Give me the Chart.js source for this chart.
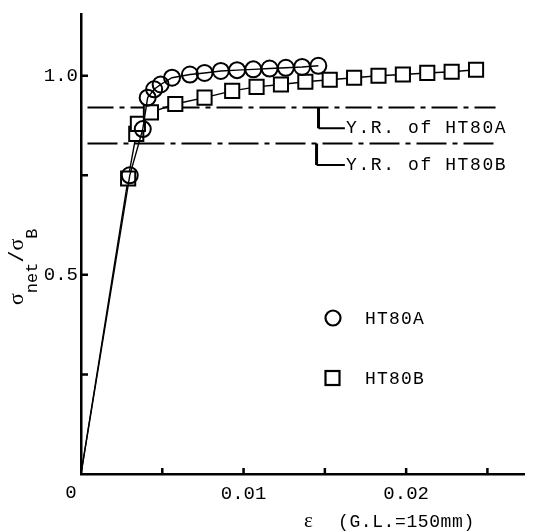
<!DOCTYPE html>
<html>
<head>
<meta charset="utf-8">
<script src="https://cdn.jsdelivr.net/npm/chart.js@4.4.0/dist/chart.umd.min.js"></script>
<style>
    html, body { margin: 0; padding: 0; background: #fff; }
    #wrap { width: 536px; height: 531px; }
</style>
</head>
<body>
<div id="wrap"><canvas id="chart"></canvas></div>
<script>
// HT80A (circles)
const strainA = [0, 0.0030, 0.0038, 0.0041, 0.0045, 0.0049, 0.0056, 0.0067, 0.0076, 0.0086, 0.0096, 0.0106, 0.0116, 0.0126, 0.0136, 0.0146];
const stressA = [0, 0.750, 0.866, 0.945, 0.966, 0.978, 0.995, 1.003, 1.007, 1.012, 1.014, 1.016, 1.018, 1.020, 1.022, 1.025];
// HT80B (squares)
const strainB = [0, 0.0029, 0.0034, 0.0035, 0.0043, 0.0058, 0.0076, 0.0093, 0.0108, 0.0123, 0.0138, 0.0153, 0.0168, 0.0183, 0.0198, 0.0213, 0.0228, 0.0243];
const stressB = [0, 0.742, 0.854, 0.879, 0.908, 0.929, 0.945, 0.962, 0.972, 0.978, 0.985, 0.990, 0.995, 1.000, 1.003, 1.007, 1.010, 1.015];
// yield ratios
const yieldRatioA = 0.92;
const yieldRatioB = 0.83;
const yrRange = [0.0004, 0.0255];

const xTicks = [0.005, 0.01, 0.015, 0.02, 0.025];
const yTicks = [0.25, 0.5, 0.75, 1.0];
const xLabels = { 0.01: '0.01', 0.02: '0.02' };
const yLabels = { 0.5: '0.5', 1: '1.0' };

const MONO = '"Liberation Mono", monospace';
const SERIF = '"Liberation Serif", "DejaVu Serif", serif';

const toPoints = (xs, ys) => xs.map((x, i) => ({ x, y: ys[i] }));
const hideFirst = r => ctx => (ctx.dataIndex === 0 ? 0 : r);

const drawSpaced = (ctx, text, x, y, spacing) => {
    ctx.letterSpacing = spacing + 'px';
    ctx.fillText(text, x, y);
    ctx.letterSpacing = '0px';
};

const decorations = {
    id: 'decorations',
    afterDatasetsDraw(chart) {
        const { ctx } = chart;
        const xs = chart.scales.x;
        const ys = chart.scales.y;
        const px = v => xs.getPixelForValue(v);
        const py = v => ys.getPixelForValue(v);
        const x0 = px(0);
        const y0 = py(0);

        ctx.save();
        ctx.strokeStyle = '#000';
        ctx.fillStyle = '#000';

        // inward ticks
        ctx.lineWidth = 2.5;
        ctx.beginPath();
        xTicks.forEach(v => { ctx.moveTo(px(v), y0); ctx.lineTo(px(v), y0 - 6); });
        yTicks.forEach(v => { ctx.moveTo(x0, py(v)); ctx.lineTo(x0 + 7, py(v)); });
        ctx.stroke();

        // brackets to the yield ratio notes
        ctx.lineWidth = 3;
        ctx.beginPath();
        ctx.moveTo(px(0.01461), py(yieldRatioA));
        ctx.lineTo(px(0.01461), py(0.868));
        ctx.moveTo(px(0.01449), py(yieldRatioB));
        ctx.lineTo(px(0.01449), py(0.776));
        ctx.stroke();
        ctx.lineWidth = 2;
        ctx.beginPath();
        ctx.moveTo(px(0.01461), py(0.868));
        ctx.lineTo(px(0.01623), py(0.868));
        ctx.moveTo(px(0.01449), py(0.776));
        ctx.lineTo(px(0.01623), py(0.776));
        ctx.stroke();

        ctx.font = '18px ' + MONO;
        ctx.textBaseline = 'middle';
        ctx.textAlign = 'left';
        drawSpaced(ctx, 'Y.R. of HT80A', px(0.0163), py(0.868), 1.6);
        drawSpaced(ctx, 'Y.R. of HT80B', px(0.0163), py(0.776), 1.6);

        // legend
        ctx.lineWidth = 2.2;
        ctx.beginPath();
        ctx.arc(333, 318, 7.5, 0, Math.PI * 2);
        ctx.stroke();
        ctx.strokeRect(325.5, 371, 14, 14);
        drawSpaced(ctx, 'HT80A', 365, 319, 1.2);
        drawSpaced(ctx, 'HT80B', 365, 379, 1.2);

        // origin label
        ctx.font = '19px ' + MONO;
        ctx.textAlign = 'center';
        ctx.fillText('0', x0 - 10, y0 + 19);

        // x axis title
        ctx.textAlign = 'left';
        ctx.font = '21px ' + SERIF;
        ctx.fillText('\u03b5', 304, 521);
        ctx.font = '18px ' + MONO;
        drawSpaced(ctx, '(G.L.=150mm)', 338, 522, 0.6);

        // y axis title, rotated, with subscripts
        ctx.translate(23, 259);
        ctx.rotate(-Math.PI / 2);
        ctx.textBaseline = 'alphabetic';
        let cx = -46;
        const put = (text, font, dy) => {
            ctx.font = font;
            ctx.fillText(text, cx, dy);
            cx += ctx.measureText(text).width;
        };
        put('\u03c3', '22px ' + SERIF, 0);
        put('net', '17px ' + MONO, 14);
        put('/', '20px ' + MONO, 0);
        put('\u03c3', '22px ' + SERIF, 0);
        put('B', '17px ' + MONO, 14);

        ctx.restore();
    }
};

new Chart(document.getElementById('chart'), {
    type: 'scatter',
    data: {
        datasets: [
            {
                label: 'HT80A',
                data: toPoints(strainA, stressA),
                showLine: true,
                borderColor: '#000',
                borderWidth: 1.4,
                pointStyle: 'circle',
                pointRadius: hideFirst(8),
                pointBorderWidth: 2,
                pointBorderColor: '#000',
                pointBackgroundColor: 'rgba(255,255,255,0)',
                order: 1
            },
            {
                label: 'HT80B',
                data: toPoints(strainB, stressB),
                showLine: true,
                borderColor: '#000',
                borderWidth: 1.4,
                pointStyle: 'rect',
                pointRadius: hideFirst(10),
                pointBorderWidth: 2,
                pointBorderColor: '#000',
                pointBackgroundColor: '#fff',
                order: 2
            },
            {
                label: 'Y.R. of HT80A',
                data: toPoints(yrRange, [yieldRatioA, yieldRatioA]),
                showLine: true,
                borderColor: '#000',
                borderWidth: 2,
                borderDash: [26, 6, 5, 6],
                pointRadius: 0,
                order: 3
            },
            {
                label: 'Y.R. of HT80B',
                data: toPoints(yrRange, [yieldRatioB, yieldRatioB]),
                showLine: true,
                borderColor: '#000',
                borderWidth: 2,
                borderDash: [30, 6, 5, 6],
                pointRadius: 0,
                order: 4
            }
        ]
    },
    options: {
        responsive: true,
        maintainAspectRatio: false,
        animation: false,
        layout: { padding: { top: 10, right: 0, left: 0, bottom: 0 } },
        plugins: {
            legend: { display: false },
            tooltip: { enabled: false }
        },
        scales: {
            x: {
                type: 'linear',
                min: 0,
                max: 0.02725,
                afterFit: s => { s.height = 57; },
                border: { display: true, color: '#000', width: 2.5 },
                grid: { drawOnChartArea: false, drawTicks: false },
                ticks: {
                    stepSize: 0.005,
                    autoSkip: false,
                    maxRotation: 0,
                    padding: 9,
                    color: '#000',
                    font: { family: MONO, size: 19 },
                    callback: v => xLabels[Math.round(v * 1000) / 1000] || ''
                }
            },
            y: {
                type: 'linear',
                min: 0,
                max: 1.154,
                afterFit: s => { s.width = 81; },
                border: { display: true, color: '#000', width: 2.5 },
                grid: { drawOnChartArea: false, drawTicks: false },
                ticks: {
                    stepSize: 0.25,
                    autoSkip: false,
                    padding: 3,
                    color: '#000',
                    font: { family: MONO, size: 19 },
                    callback: v => yLabels[Math.round(v * 100) / 100] || ''
                }
            }
        }
    },
    plugins: [decorations]
});
</script>
</body>
</html>
